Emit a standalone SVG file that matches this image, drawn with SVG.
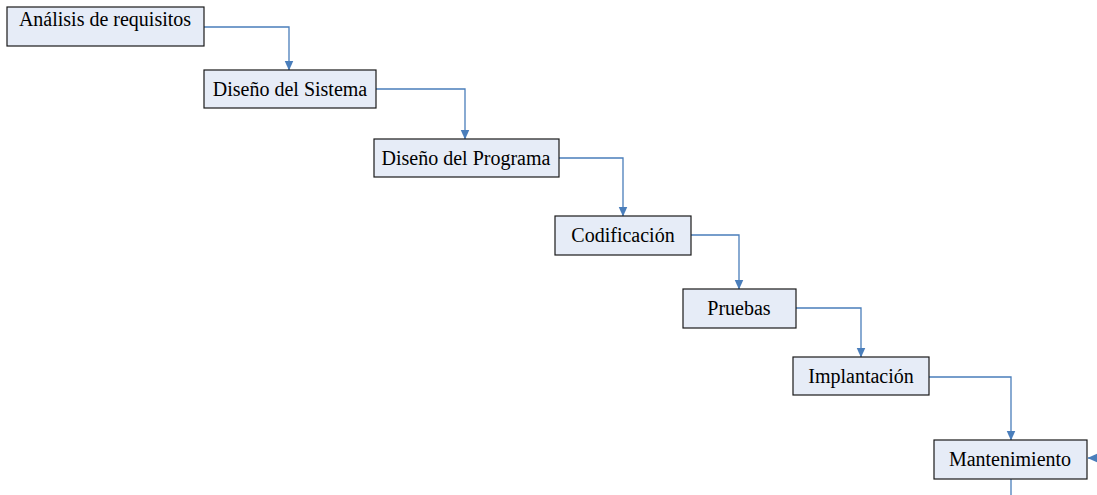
<svg xmlns="http://www.w3.org/2000/svg" width="1097" height="495" viewBox="0 0 1097 495">
  <style>
    .box { fill: #e6ecf7; stroke: #1a1a1a; stroke-width: 1.2; }
    .lbl { font-family: "Liberation Serif", "Times New Roman", serif; font-size: 20px; fill: #000; text-anchor: middle; }
    .wire { fill: none; stroke: #4a7ebb; stroke-width: 1.3; }
  </style>
  <defs>
    <marker id="arrow" markerWidth="10" markerHeight="10" refX="9.5" refY="5" orient="auto" markerUnits="userSpaceOnUse">
      <path d="M0,0.5 L10,5 L0,9.5 Z" fill="#4a7ebb"/>
    </marker>
  </defs>

  <g id="connectors">
    <path class="wire" d="M204,27 H289 V70" marker-end="url(#arrow)"/>
    <path class="wire" d="M376,89 H465 V139" marker-end="url(#arrow)"/>
    <path class="wire" d="M559,158 H623 V216" marker-end="url(#arrow)"/>
    <path class="wire" d="M691,235 H739 V289" marker-end="url(#arrow)"/>
    <path class="wire" d="M796,308 H861 V357" marker-end="url(#arrow)"/>
    <path class="wire" d="M929,377 H1011 V440" marker-end="url(#arrow)"/>
    <path class="wire" d="M1105,458 H1088" marker-end="url(#arrow)"/>
    <path class="wire" d="M1011,479 V495"/>
  </g>

  <g id="analisis">
    <rect class="box" x="7" y="7" width="197" height="39"/>
    <text class="lbl" x="105" y="26">Análisis de requisitos</text>
  </g>
  <g id="diseno-sistema">
    <rect class="box" x="204" y="70" width="172" height="38"/>
    <text class="lbl" x="290" y="96">Diseño del Sistema</text>
  </g>
  <g id="diseno-programa">
    <rect class="box" x="374" y="139" width="185" height="38"/>
    <text class="lbl" x="466" y="165">Diseño del Programa</text>
  </g>
  <g id="codificacion">
    <rect class="box" x="555" y="216" width="136" height="39"/>
    <text class="lbl" x="623" y="242">Codificación</text>
  </g>
  <g id="pruebas">
    <rect class="box" x="683" y="289" width="113" height="39"/>
    <text class="lbl" x="739" y="315">Pruebas</text>
  </g>
  <g id="implantacion">
    <rect class="box" x="793" y="357" width="136" height="38"/>
    <text class="lbl" x="861" y="383">Implantación</text>
  </g>
  <g id="mantenimiento">
    <rect class="box" x="934" y="440" width="153" height="39"/>
    <text class="lbl" x="1010" y="466">Mantenimiento</text>
  </g>
</svg>
